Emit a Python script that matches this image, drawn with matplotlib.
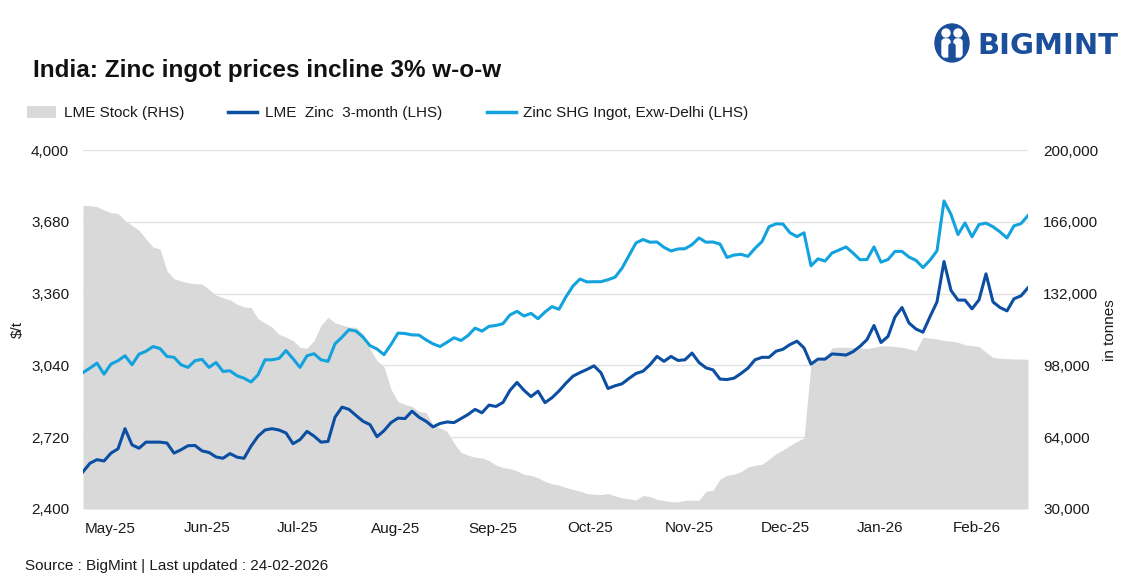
import matplotlib
matplotlib.use("Agg")
import matplotlib.pyplot as plt
import numpy as np
from matplotlib.patches import Patch, Ellipse, Circle, FancyBboxPatch
from matplotlib.lines import Line2D
from matplotlib.ticker import FuncFormatter

plt.rcParams['font.family'] = ['Liberation Sans', 'DejaVu Sans']

# ---------------- data ----------------
month_labels = ["May-25", "Jun-25", "Jul-25", "Aug-25", "Sep-25", "Oct-25",
                "Nov-25", "Dec-25", "Jan-26", "Feb-26"]
month_tick_idx = [3.9, 17.7, 30.6, 44.6, 58.6, 72.4, 86.6, 100.4, 113.9, 127.7]

shg_delhi = [3008, 3028, 3050, 3001, 3046, 3061, 3083, 3043, 3090, 3103,
             3124, 3115, 3080, 3076, 3043, 3031, 3061, 3067, 3031, 3053,
             3013, 3016, 2994, 2983, 2966, 2998, 3065, 3065, 3071, 3106,
             3070, 3031, 3083, 3092, 3065, 3058, 3136, 3166, 3199, 3193,
             3166, 3128, 3113, 3088, 3133, 3184, 3182, 3176, 3175, 3154,
             3136, 3124, 3143, 3163, 3151, 3173, 3206, 3193, 3214, 3218,
             3226, 3265, 3281, 3260, 3272, 3248, 3278, 3302, 3290, 3346,
             3394, 3425, 3412, 3413, 3413, 3422, 3433, 3473, 3530, 3586,
             3601, 3589, 3590, 3566, 3550, 3559, 3560, 3578, 3608, 3589,
             3590, 3581, 3521, 3532, 3535, 3526, 3562, 3592, 3658, 3671,
             3670, 3631, 3614, 3631, 3484, 3515, 3505, 3541, 3554, 3568,
             3541, 3511, 3512, 3568, 3500, 3512, 3548, 3548, 3523, 3508,
             3476, 3509, 3551, 3773, 3713, 3623, 3675, 3613, 3668, 3674,
             3658, 3635, 3608, 3662, 3672, 3708]

lme_3m = [2566, 2604, 2620, 2614, 2649, 2668, 2758, 2686, 2671, 2698,
          2698, 2698, 2694, 2649, 2664, 2682, 2683, 2659, 2652, 2632,
          2626, 2647, 2631, 2626, 2680, 2724, 2752, 2758, 2752, 2739,
          2691, 2709, 2746, 2725, 2698, 2701, 2809, 2854, 2844, 2817,
          2791, 2776, 2722, 2749, 2785, 2805, 2803, 2836, 2809, 2791,
          2766, 2781, 2788, 2785, 2803, 2821, 2844, 2829, 2863, 2857,
          2875, 2929, 2964, 2929, 2901, 2925, 2874, 2896, 2926, 2961,
          2992, 3008, 3022, 3038, 3007, 2937, 2949, 2958, 2982, 3004,
          3014, 3043, 3080, 3058, 3080, 3062, 3065, 3095, 3053, 3029,
          3020, 2979, 2977, 2983, 3004, 3028, 3065, 3076, 3076, 3103,
          3112, 3133, 3148, 3118, 3046, 3068, 3068, 3091, 3089, 3086,
          3101, 3125, 3155, 3218, 3142, 3169, 3256, 3298, 3229, 3202,
          3188, 3257, 3323, 3503, 3374, 3331, 3331, 3292, 3332, 3448,
          3323, 3298, 3283, 3337, 3350, 3386]

lme_stock = [173800, 173640, 173170, 171570, 170300, 169980, 166640, 164250, 162020, 157880,
             154060, 153100, 142750, 139090, 137970, 137180, 136700, 136540, 133990, 131300,
             130010, 129050, 126980, 125710, 125390, 120140, 118070, 116160, 112650, 111380,
             109790, 106600, 106120, 109790, 116950, 120770, 118230, 117110, 116160, 116000,
             112970, 105800, 100230, 97360, 86690, 80800, 79530, 78570, 76180, 75700,
             69970, 68380, 66790, 61210, 56750, 55480, 54525, 54210, 52930, 50860,
             49590, 49110, 48000, 46400, 45930, 44810, 43060, 41940, 41310, 40190,
             39240, 38440, 37330, 37010, 36850, 37330, 36210, 35260, 34780, 34300,
             36370, 35890, 34620, 33980, 33500, 33345, 34140, 34140, 34140, 38440,
             38920, 44170, 45930, 46560, 47680, 49900, 50700, 51180, 53570, 56120,
             58030, 60100, 62010, 63600, 98640, 100230, 101350, 106280, 106600, 106600,
             106440, 106280, 105960, 106600, 107240, 107240, 106920, 106600, 105800, 105010,
             111380, 110900, 110580, 109790, 109470, 108990, 107710, 107400, 106920, 104210,
             101820, 101350, 101190, 101030, 101030, 100870]

left_ticks = [2400, 2720, 3040, 3360, 3680, 4000]
right_ticks = [30000, 64000, 98000, 132000, 166000, 200000]

# ---------------- styling ----------------
C_DARK = "#0B4EA2"
C_LIGHT = "#12A3DF"
C_GREY = "#D9D9D9"
C_GRID = "#E3E3E3"
C_TEXT = "#1A1A1A"

W, H = 1130, 585
fig = plt.figure(figsize=(W / 100, H / 100), dpi=100)

L, R, T, B = 83, 1028, 150, 509
ax_s = fig.add_axes([L / W, 1 - B / H, (R - L) / W, (B - T) / H])
ax_p = ax_s.twinx()

x = np.arange(len(lme_stock))

# stock area (RHS)
ax_s.fill_between(x, right_ticks[0], lme_stock, color=C_GREY, lw=0, zorder=2)
ax_s.set_ylim(right_ticks[0], right_ticks[-1])
ax_s.set_yticks(right_ticks)
ax_s.yaxis.tick_right()
ax_s.yaxis.set_label_position("right")
ax_s.yaxis.set_major_formatter(FuncFormatter(lambda v, p: f"{int(v):,}"))
ax_s.grid(axis="y", color=C_GRID, lw=1.0, zorder=0)
ax_s.set_axisbelow(True)

# prices (LHS)
ax_p.plot(x, lme_3m, color=C_DARK, lw=2.2, solid_joinstyle="round", zorder=4)
ax_p.plot(x, shg_delhi, color=C_LIGHT, lw=2.2, solid_joinstyle="round", zorder=4)
ax_p.set_ylim(left_ticks[0], left_ticks[-1])
ax_p.set_yticks(left_ticks)
ax_p.yaxis.tick_left()
ax_p.yaxis.set_major_formatter(FuncFormatter(lambda v, p: f"{int(v):,}"))

for a in (ax_s, ax_p):
    for sp in a.spines.values():
        sp.set_visible(False)
    a.tick_params(length=0, labelsize=11, colors=C_TEXT)

ax_s.set_xlim(x[0], x[-1])
ax_s.set_xticks(month_tick_idx)
ax_s.set_xticklabels(month_labels)
ax_s.tick_params(axis="x", pad=9, labelbottom=True)
ax_s.tick_params(axis="y", pad=11)
ax_p.tick_params(axis="y", pad=10)

# axis titles
fig.text(18 / W, 1 - 330 / H, "$/t", rotation=90, ha="center", va="center",
         fontsize=11, color=C_TEXT)
fig.text(1110 / W, 1 - 330 / H, "in tonnes", rotation=90, ha="center", va="center",
         fontsize=11, color=C_TEXT)

# title
fig.text(33 / W, 1 - 70 / H, "India: Zinc ingot prices incline 3% w-o-w",
         fontsize=17.5, fontweight="bold", color="#111111", ha="left", va="center")

# legend
handles = [Patch(facecolor=C_GREY, edgecolor="none"),
           Line2D([0], [0], color=C_DARK, lw=2.5),
           Line2D([0], [0], color=C_LIGHT, lw=2.5)]
labels = ["LME Stock (RHS)", "LME  Zinc  3-month (LHS)", "Zinc SHG Ingot, Exw-Delhi (LHS)"]
leg = fig.legend(handles, labels, loc="center left", bbox_to_anchor=(27 / W, 1 - 113 / H),
                 ncol=3, frameon=False, fontsize=11, handlelength=1.9, handleheight=0.8,
                 handletextpad=0.5, columnspacing=2.9, borderpad=0, borderaxespad=0)
for t in leg.get_texts():
    t.set_color(C_TEXT)

# source
fig.text(25 / W, 1 - 566 / H, "Source : BigMint | Last updated : 24-02-2026",
         fontsize=11, color=C_TEXT, ha="left", va="center")

# logo
C_LOGO = "#1B4F9C"
lax = fig.add_axes([0, 0, 1, 1], zorder=-1)
lax.set_xlim(0, W)
lax.set_ylim(H, 0)
lax.axis("off")
lax.add_patch(Ellipse((952, 43), 34, 38, color=C_LOGO))
lax.add_patch(Circle((946, 33), 4, color="white"))
lax.add_patch(Circle((958, 33), 4, color="white"))
lax.add_patch(FancyBboxPatch((942, 39), 8, 18, boxstyle="round,pad=0,rounding_size=3",
                             color="white"))
lax.add_patch(FancyBboxPatch((954, 39), 8, 18, boxstyle="round,pad=0,rounding_size=3",
                             color="white"))
lax.add_patch(FancyBboxPatch((949, 44), 6, 16, boxstyle="round,pad=0,rounding_size=2",
                             color=C_LOGO))
lax.text(977, 46, "BIGMINT", fontsize=21, fontweight="bold", color=C_LOGO,
         ha="left", va="center", family=["DejaVu Sans"])

fig.savefig("out.png", dpi=100)
